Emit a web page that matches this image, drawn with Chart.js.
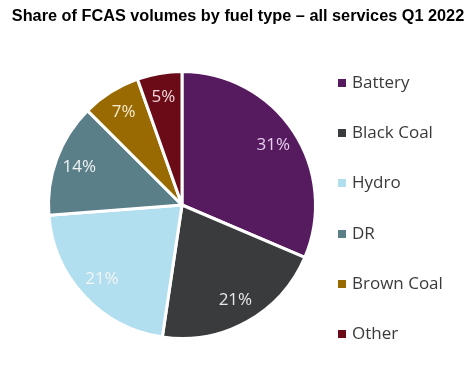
<!DOCTYPE html>
<html>
<head>
<meta charset="utf-8">
<script src="https://cdn.jsdelivr.net/npm/chart.js@4/dist/chart.umd.min.js"></script>
<style>
  html, body { margin: 0; padding: 0; background: #fff; }
  #wrap { width: 476px; height: 367px; position: relative; }
  #title { position: absolute; left: 0; top: 6px; width: 476px; text-align: center; white-space: nowrap;
           font-family: 'Liberation Sans', Arial, sans-serif; font-weight: bold; font-size: 16.3px; color: #000; }
  #legend { position: absolute; left: 338px; top: 0; margin: 0; padding: 0; list-style: none;
            font-family: 'Open Sans', sans-serif; font-size: 17px; color: #3a3a3a; }
  #legend li { position: absolute; left: 0; white-space: nowrap; height: 24px; line-height: 24px; }
  #legend span { display: inline-block; width: 8px; height: 8px; margin-right: 6px; vertical-align: 1px; }
</style>
</head>
<body>
<div id="wrap">
  <canvas id="fcasChart"></canvas>
  <div id="title">Share of FCAS volumes by fuel type – all services Q1 2022</div>
  <ul id="legend"></ul>
</div>
<script>
const categories = ["Battery", "Black Coal", "Hydro", "DR", "Brown Coal", "Other"];
const shares = [31.4, 20.9, 21.4, 13.7, 7.1, 5.4];
const sliceColors = ["#561b5e", "#3a3b3d", "#b2dff0", "#5b7f88", "#9a6a02", "#6b0b18"];
const labelColors = ["#e6cdee", "#e8e8e8", "#f4f4f4", "#eef2f3", "#f6ecd0", "#f0d8dc"];

// percent labels drawn inside each slice
const sliceLabels = {
  id: "sliceLabels",
  afterDatasetsDraw(chart) {
    const c = chart.ctx;
    const meta = chart.getDatasetMeta(0);
    const total = shares.reduce((a, b) => a + b, 0);
    c.save();
    c.font = "17px 'Open Sans', sans-serif";
    c.textAlign = "center";
    c.textBaseline = "middle";
    meta.data.forEach((arc, i) => {
      const mid = (arc.startAngle + arc.endAngle) / 2;
      const r = arc.outerRadius * 0.82;
      const x = arc.x + Math.cos(mid) * r;
      const y = arc.y + Math.sin(mid) * r;
      c.fillStyle = labelColors[i];
      c.fillText(Math.round((shares[i] / total) * 100) + "%", x, y);
    });
    c.restore();
  },
};

const chart = new Chart(document.getElementById("fcasChart"), {
  type: "pie",
  data: {
    labels: categories,
    datasets: [
      {
        data: shares,
        backgroundColor: sliceColors,
        borderColor: "#ffffff",
        borderWidth: 3,
      },
    ],
  },
  options: {
    responsive: true,
    maintainAspectRatio: false,
    animation: false,
    layout: {
      padding: { left: 47, right: 159, top: 70, bottom: 27 },
    },
    plugins: {
      title: { display: false },
      legend: { display: false },
      tooltip: { enabled: false },
    },
  },
  plugins: [sliceLabels],
});

// legend on the right, one row every ~50px
const legendEl = document.getElementById("legend");
categories.forEach((name, i) => {
  const li = document.createElement("li");
  li.style.top = 70 + i * 50.2 + "px";
  const box = document.createElement("span");
  box.style.background = sliceColors[i];
  li.appendChild(box);
  li.appendChild(document.createTextNode(name));
  legendEl.appendChild(li);
});
</script>
</body>
</html>
